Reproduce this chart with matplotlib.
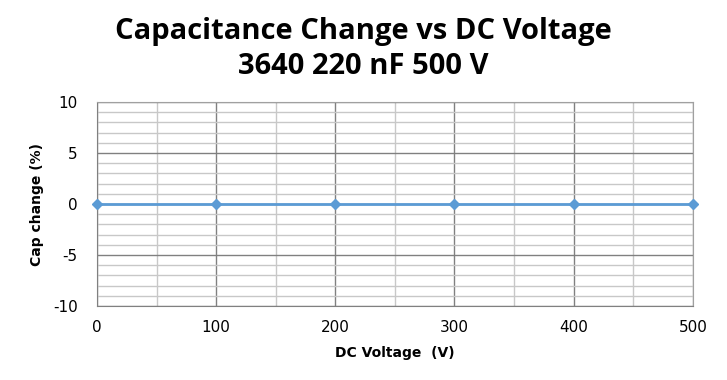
import matplotlib.pyplot as plt
import numpy as np

plt.rcParams['axes.unicode_minus'] = False

# dane z wykresu
voltage = [0, 100, 200, 300, 400, 500]
cap_change = [0, 0, 0, 0, 0, 0]

fig = plt.figure(figsize=(7.27, 3.8), dpi=100)
ax = fig.add_axes([0.1334, 0.1947, 0.8196, 0.5369])

ax.set_xlim(0, 500)
ax.set_ylim(-10, 10)
ax.set_xticks(np.arange(0, 501, 100))
ax.set_xticks(np.arange(0, 501, 50), minor=True)
ax.set_yticks(np.arange(-10, 11, 5))
ax.set_yticks(np.arange(-10, 11, 1), minor=True)

ax.grid(which='minor', color='#c8c8c8', linewidth=1)
ax.grid(which='major', color='#808080', linewidth=1)
ax.set_axisbelow(True)
ax.tick_params(which='both', length=0)
ax.tick_params(axis='x', pad=10, labelsize=11)
ax.tick_params(axis='y', pad=14, labelsize=11)
for s in ['top', 'right']:
    ax.spines[s].set_color('#a0a0a0')
for s in ['left', 'bottom']:
    ax.spines[s].set_color('#808080')

ax.plot(voltage, cap_change, color='#5b9bd5', linewidth=2, marker='D',
        markersize=5, clip_on=False, zorder=5)

ax.set_xlabel('DC Voltage  (V)', fontsize=10, fontweight='bold', labelpad=8)
ax.set_ylabel('Cap change (%)', fontsize=10, fontweight='bold', labelpad=6)

fig.text(0.5, 0.918, 'Capacitance Change vs DC Voltage', ha='center', va='center',
         fontsize=21, fontweight='bold', family='Open Sans')
fig.text(0.5, 0.826, '3640 220 nF 500 V', ha='center', va='center',
         fontsize=21, fontweight='bold', family='Open Sans')

fig.savefig('out.png', dpi=100)
